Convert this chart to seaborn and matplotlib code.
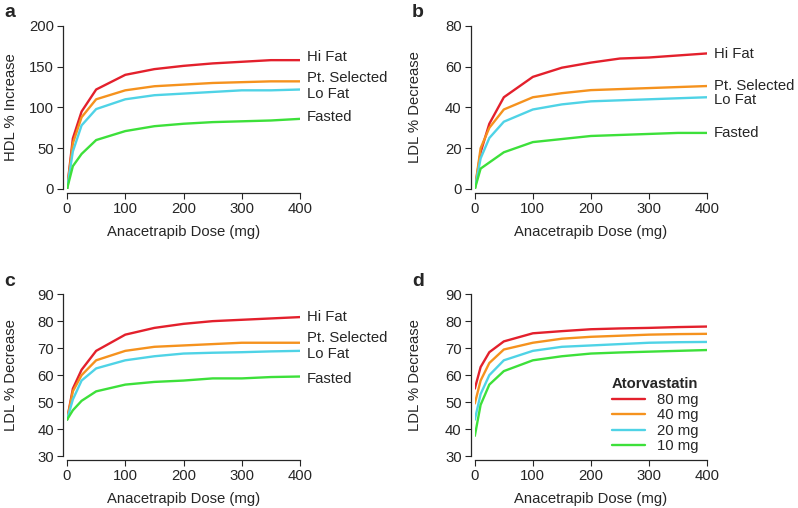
import numpy as np
import pandas as pd
import seaborn as sns
import matplotlib.pyplot as plt

# doses (mg)
dose = [0, 10, 25, 50, 100, 150, 200, 250, 300, 350, 400]

conditions = ["Hi Fat", "Pt. Selected", "Lo Fat", "Fasted"]
statin = ["80 mg", "40 mg", "20 mg", "10 mg"]
colors = ["#e3202c", "#f5921e", "#4fd3e6", "#3de03a"]

# panel a: HDL % increase
hdl_hi = [0, 62, 95, 122, 140, 147, 151, 154, 156, 158, 158]
hdl_pt = [0, 56, 88, 110, 121, 126, 128, 130, 131, 132, 132]
hdl_lo = [0, 46, 78, 98, 110, 115, 117, 119, 121, 121, 122]
hdl_fa = [0, 28, 43, 60, 71, 77, 80, 82, 83, 84, 86]

# panel b: LDL % decrease
ldlb_hi = [0, 18, 32, 45, 55, 59.5, 62, 64, 64.5, 65.5, 66.5]
ldlb_pt = [0, 20, 30, 39, 45, 47, 48.5, 49, 49.5, 50, 50.5]
ldlb_lo = [0, 15, 25, 33, 39, 41.5, 43, 43.5, 44, 44.5, 45]
ldlb_fa = [0, 10, 13, 18, 23, 24.5, 26, 26.5, 27, 27.5, 27.5]

# panel c: LDL % decrease
ldlc_hi = [43.5, 55, 62, 69, 75, 77.5, 79, 80, 80.5, 81, 81.5]
ldlc_pt = [43.5, 54, 60, 65.5, 69, 70.5, 71, 71.5, 72, 72, 72]
ldlc_lo = [43.5, 51, 58, 62.5, 65.5, 67, 68, 68.3, 68.5, 68.8, 69]
ldlc_fa = [43.5, 47, 50.5, 54, 56.5, 57.5, 58, 58.8, 58.8, 59.3, 59.5]

# panel d: LDL % decrease by atorvastatin dose
ldld_80 = [55, 63, 68.5, 72.5, 75.5, 76.3, 77, 77.3, 77.5, 77.8, 78]
ldld_40 = [49.5, 58, 64.5, 69.5, 72, 73.5, 74.2, 74.6, 75, 75.2, 75.3]
ldld_20 = [43.5, 53, 60, 65.5, 69, 70.5, 71, 71.5, 72, 72.2, 72.3]
ldld_10 = [37.5, 49, 56.5, 61.5, 65.5, 67, 68, 68.4, 68.7, 69, 69.3]


def long_form(series, names, col):
    rows = []
    for name, vals in zip(names, series):
        for d, v in zip(dose, vals):
            rows.append({"dose": d, col: v, "group": name})
    return pd.DataFrame(rows)


FS = 10.7

sns.set_style("ticks")
plt.rcParams["font.family"] = ["Liberation Sans", "DejaVu Sans"]
plt.rcParams["font.size"] = FS

fig = plt.figure(figsize=(7.98, 5.08), dpi=100)
ax_a = fig.add_axes([0.084, 0.628, 0.292, 0.321])
ax_b = fig.add_axes([0.595, 0.628, 0.291, 0.321])
ax_c = fig.add_axes([0.084, 0.102, 0.292, 0.319])
ax_d = fig.add_axes([0.595, 0.102, 0.291, 0.319])

panels = [
    (ax_a, [hdl_hi, hdl_pt, hdl_lo, hdl_fa], conditions, "HDL % Increase",
     (0, 200), [0, 50, 100, 150, 200], [162, 136, 117, 88.5], "a", -0.21),
    (ax_b, [ldlb_hi, ldlb_pt, ldlb_lo, ldlb_fa], conditions, "LDL % Decrease",
     (0, 80), [0, 20, 40, 60, 80], [66, 50.7, 43.7, 27.5], "b", -0.226),
    (ax_c, [ldlc_hi, ldlc_pt, ldlc_lo, ldlc_fa], conditions, "LDL % Decrease",
     (30, 90), [30, 40, 50, 60, 70, 80, 90], [81.4, 73.7, 68, 58.5], "c", -0.21),
    (ax_d, [ldld_80, ldld_40, ldld_20, ldld_10], statin, "LDL % Decrease",
     (30, 90), [30, 40, 50, 60, 70, 80, 90], None, "d", -0.226),
]

for ax, series, names, ylab, ylim, yticks, label_y, letter, ylab_x in panels:
    df = long_form(series, names, "value")
    sns.lineplot(data=df, x="dose", y="value", hue="group", hue_order=names,
                 palette=colors, linewidth=1.7, ax=ax, legend=(letter == "d"))
    ax.set_xlim(0, 400)
    ax.set_ylim(*ylim)
    ax.set_xticks([0, 100, 200, 300, 400])
    ax.set_yticks(yticks)
    ax.set_xlabel("Anacetrapib Dose (mg)", fontsize=FS, labelpad=6)
    ax.set_ylabel(ylab, fontsize=FS)
    ax.yaxis.set_label_coords(ylab_x, 0.5)
    ax.tick_params(labelsize=FS, length=4, width=0.8, pad=2.5)
    sns.despine(ax=ax, offset=3)
    for sp in ["left", "bottom"]:
        ax.spines[sp].set_linewidth(0.9)
    if label_y is not None:
        for name, y in zip(names, label_y):
            ax.text(412, y, name, fontsize=FS, va="center", ha="left", clip_on=False)
    ax.text(-0.27, 1.08, letter, transform=ax.transAxes, fontsize=14,
            fontweight="bold", va="center", ha="left")

leg = ax_d.legend(title="Atorvastatin", loc="lower right", bbox_to_anchor=(0.975, 0.0),
                  frameon=False, fontsize=FS, handlelength=2.2, labelspacing=0.1,
                  borderaxespad=0.0, borderpad=0.2, handletextpad=0.8)
leg.get_title().set_fontweight("bold")
leg.get_title().set_fontsize(FS)

fig.savefig("out.png", dpi=100)
